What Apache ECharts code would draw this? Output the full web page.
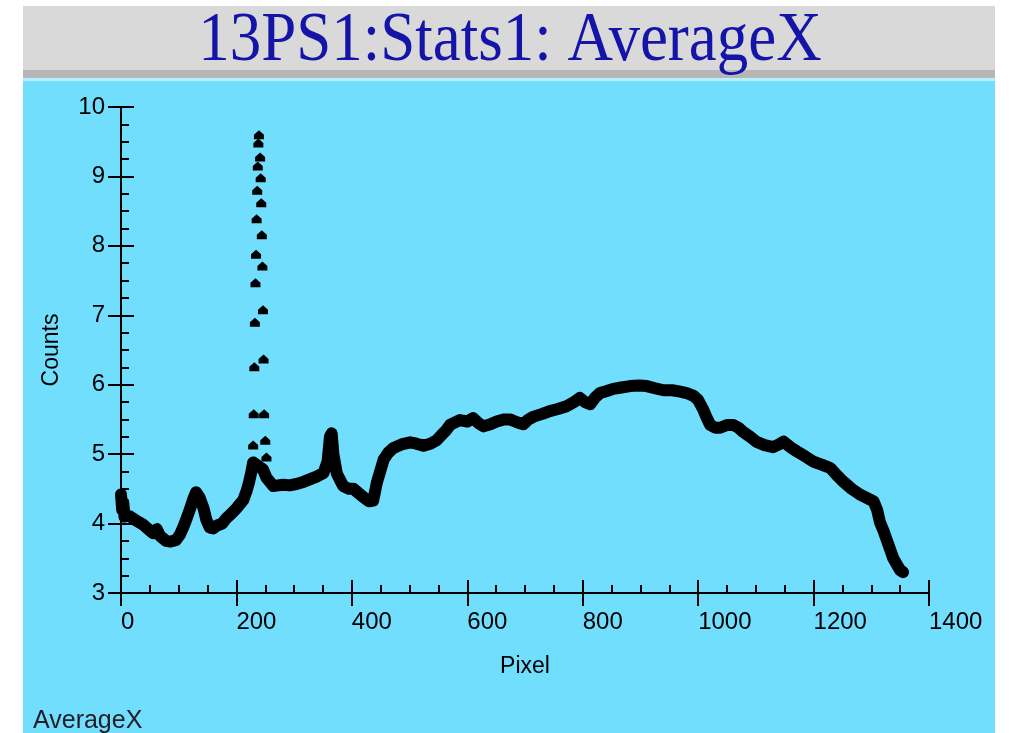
<!DOCTYPE html>
<html>
<head>
<meta charset="utf-8">
<script src="https://cdn.jsdelivr.net/npm/echarts@6/dist/echarts.min.js"></script>
<style>
html,body{margin:0;padding:0;background:#ffffff;}
#chart{width:1010px;height:733px;}
</style>
</head>
<body>
<div id="chart"></div>
<script>
// Main curve (pixel position, average counts)
const pixel = [0,2,4,6,10,16,25,39,50,56,62,68,78,85,95,102,108,114,120,125,130,136,143,148,154,160,166,175,183,192,200,206,212,218,222,226,229,
246,252,258,264,272,281,292,304,316,328,340,351,358,362,365,368,374,380,385,395,403,410,420,430,437,443,449,455,463,472,486,501,512,524,536,547,556,564,570,587,600,610,619,628,640,651,663,674,686,697,706,715,730,743,757,772,785,795,804,813,822,830,842,853,867,882,897,911,925,940,955,969,980,992,1000,1009,1015,1021,1030,1038,1050,1061,1070,1078,1090,1101,1115,1130,1140,1148,1160,1171,1185,1200,1214,1229,1240,1252,1266,1280,1292,1304,1310,1315,1321,1327,1333,1338,1345,1350,1355];
const counts = [4.42,4.2,4.3,4.1,4.12,4.1,4.05,3.98,3.9,3.86,3.92,3.82,3.75,3.74,3.76,3.84,3.95,4.08,4.22,4.35,4.45,4.38,4.22,4.05,3.94,3.93,3.97,4.0,4.08,4.15,4.22,4.28,4.34,4.48,4.6,4.75,4.88,
4.78,4.66,4.6,4.54,4.55,4.56,4.55,4.57,4.6,4.64,4.68,4.73,4.9,5.25,5.3,5.0,4.72,4.62,4.54,4.5,4.5,4.45,4.38,4.32,4.33,4.58,4.75,4.92,5.02,5.09,5.14,5.17,5.15,5.12,5.15,5.2,5.28,5.35,5.42,5.49,5.47,5.52,5.45,5.4,5.43,5.47,5.5,5.5,5.46,5.43,5.5,5.54,5.58,5.62,5.65,5.69,5.75,5.81,5.75,5.72,5.82,5.88,5.91,5.94,5.96,5.98,5.99,5.98,5.95,5.92,5.92,5.9,5.88,5.84,5.78,5.64,5.52,5.42,5.38,5.38,5.42,5.42,5.38,5.32,5.25,5.18,5.13,5.1,5.14,5.18,5.1,5.04,4.97,4.89,4.85,4.8,4.7,4.6,4.5,4.42,4.37,4.32,4.2,4.02,3.9,3.76,3.62,3.5,3.4,3.33,3.3];
// Isolated spike points
const spikePixel = [228,229,230,231,232,233,234,235,236,237,238,239,241,242,243,244,245,246,247,248,250,252];
const spikeCounts = [4.89,5.13,5.58,6.26,6.90,7.47,7.88,8.39,8.80,9.15,9.48,9.60,9.28,8.98,8.62,8.16,7.71,7.08,6.37,5.58,5.20,4.96];
const titleText = '13PS1:Stats1: AverageX';
const xName = 'Pixel';
const yName = 'Counts';
const legendText = 'AverageX';

const mainData = pixel.map((p, i) => [p, counts[i]]);
const spikeData = spikePixel.map((p, i) => [p, spikeCounts[i]]);

const chart = echarts.init(document.getElementById('chart'), null, {renderer: 'canvas'});
const sans = 'Liberation Sans';
const axisColor = '#000000';
const gridRect = {left: 121, top: 107, width: 808, height: 486};
const plain = v => String(v);

const option = {
  backgroundColor: '#ffffff',
  animation: false,
  graphic: [
    {type: 'rect', left: 23, top: 6, shape: {width: 972, height: 64}, style: {fill: '#d9d9d9'}, z: -10},
    {type: 'rect', left: 23, top: 70, shape: {width: 972, height: 8}, style: {fill: '#b6b6b6'}, z: -10},
    {type: 'rect', left: 23, top: 78, shape: {width: 972, height: 3}, style: {fill: '#b9effd'}, z: -10},
    {type: 'rect', left: 23, top: 81, shape: {width: 972, height: 652}, style: {fill: '#72defd'}, z: -10},
    {type: 'text', x: 510, y: 46, scaleY: 1.1, originX: 510, originY: 46,
      style: {text: titleText, font: '63px "Liberation Serif"', fill: '#1414a8', align: 'center', verticalAlign: 'middle'}, z: 5},
    {type: 'text', left: 33, top: 709,
      style: {text: legendText, font: '25px "Liberation Sans"', fill: '#202028'}, z: 5}
  ],
  grid: [
    Object.assign({}, gridRect),
    Object.assign({}, gridRect)
  ],
  xAxis: [
    {
      gridIndex: 0, type: 'value', min: 0, max: 1400, interval: 200,
      name: xName, nameLocation: 'middle', nameGap: 62,
      nameTextStyle: {fontFamily: sans, fontSize: 23, color: '#000'},
      axisLine: {show: true, onZero: false, lineStyle: {color: axisColor, width: 2}},
      axisTick: {show: true, inside: false, length: 13, lineStyle: {color: axisColor, width: 2}},
      minorTick: {show: false},
      axisLabel: {show: true, align: 'left', margin: 17, formatter: plain, fontFamily: sans, fontSize: 24, color: '#000'},
      splitLine: {show: false}
    },
    {
      gridIndex: 1, type: 'value', min: 0, max: 1400, interval: 200,
      axisLine: {show: false, onZero: false},
      axisTick: {show: true, inside: true, length: 13, lineStyle: {color: axisColor, width: 2}},
      minorTick: {show: true, splitNumber: 4, length: 8, lineStyle: {color: axisColor, width: 2}},
      axisLabel: {show: false},
      splitLine: {show: false}
    }
  ],
  yAxis: [
    {
      gridIndex: 0, type: 'value', min: 3, max: 10, interval: 1,
      name: yName, nameLocation: 'middle', nameGap: 58,
      nameTextStyle: {fontFamily: sans, fontSize: 23, color: '#000'},
      axisLine: {show: true, onZero: false, lineStyle: {color: axisColor, width: 2}},
      axisTick: {show: true, inside: false, length: 13, lineStyle: {color: axisColor, width: 2}},
      minorTick: {show: false},
      axisLabel: {show: true, margin: 16, formatter: plain, fontFamily: sans, fontSize: 24, color: '#000'},
      splitLine: {show: false}
    },
    {
      gridIndex: 1, type: 'value', min: 3, max: 10, interval: 1,
      axisLine: {show: false, onZero: false},
      axisTick: {show: true, inside: true, length: 13, lineStyle: {color: axisColor, width: 2}},
      minorTick: {show: true, splitNumber: 4, length: 8, lineStyle: {color: axisColor, width: 2}},
      axisLabel: {show: false},
      splitLine: {show: false}
    }
  ],
  series: [
    {
      name: 'AverageX', type: 'line', xAxisIndex: 0, yAxisIndex: 0,
      data: mainData, showSymbol: false, symbol: 'none', smooth: false,
      lineStyle: {color: '#000', width: 12, join: 'round', cap: 'round'},
      z: 3
    },
    {
      name: 'AverageX spike', type: 'scatter', xAxisIndex: 0, yAxisIndex: 0,
      data: spikeData,
      symbol: 'path://M4,0 L8,3.5 L8,7 L0,7 L0,3.5 Z', symbolSize: [10, 9],
      itemStyle: {color: '#000', opacity: 1},
      z: 3
    }
  ]
};
chart.setOption(option);
</script>
</body>
</html>
